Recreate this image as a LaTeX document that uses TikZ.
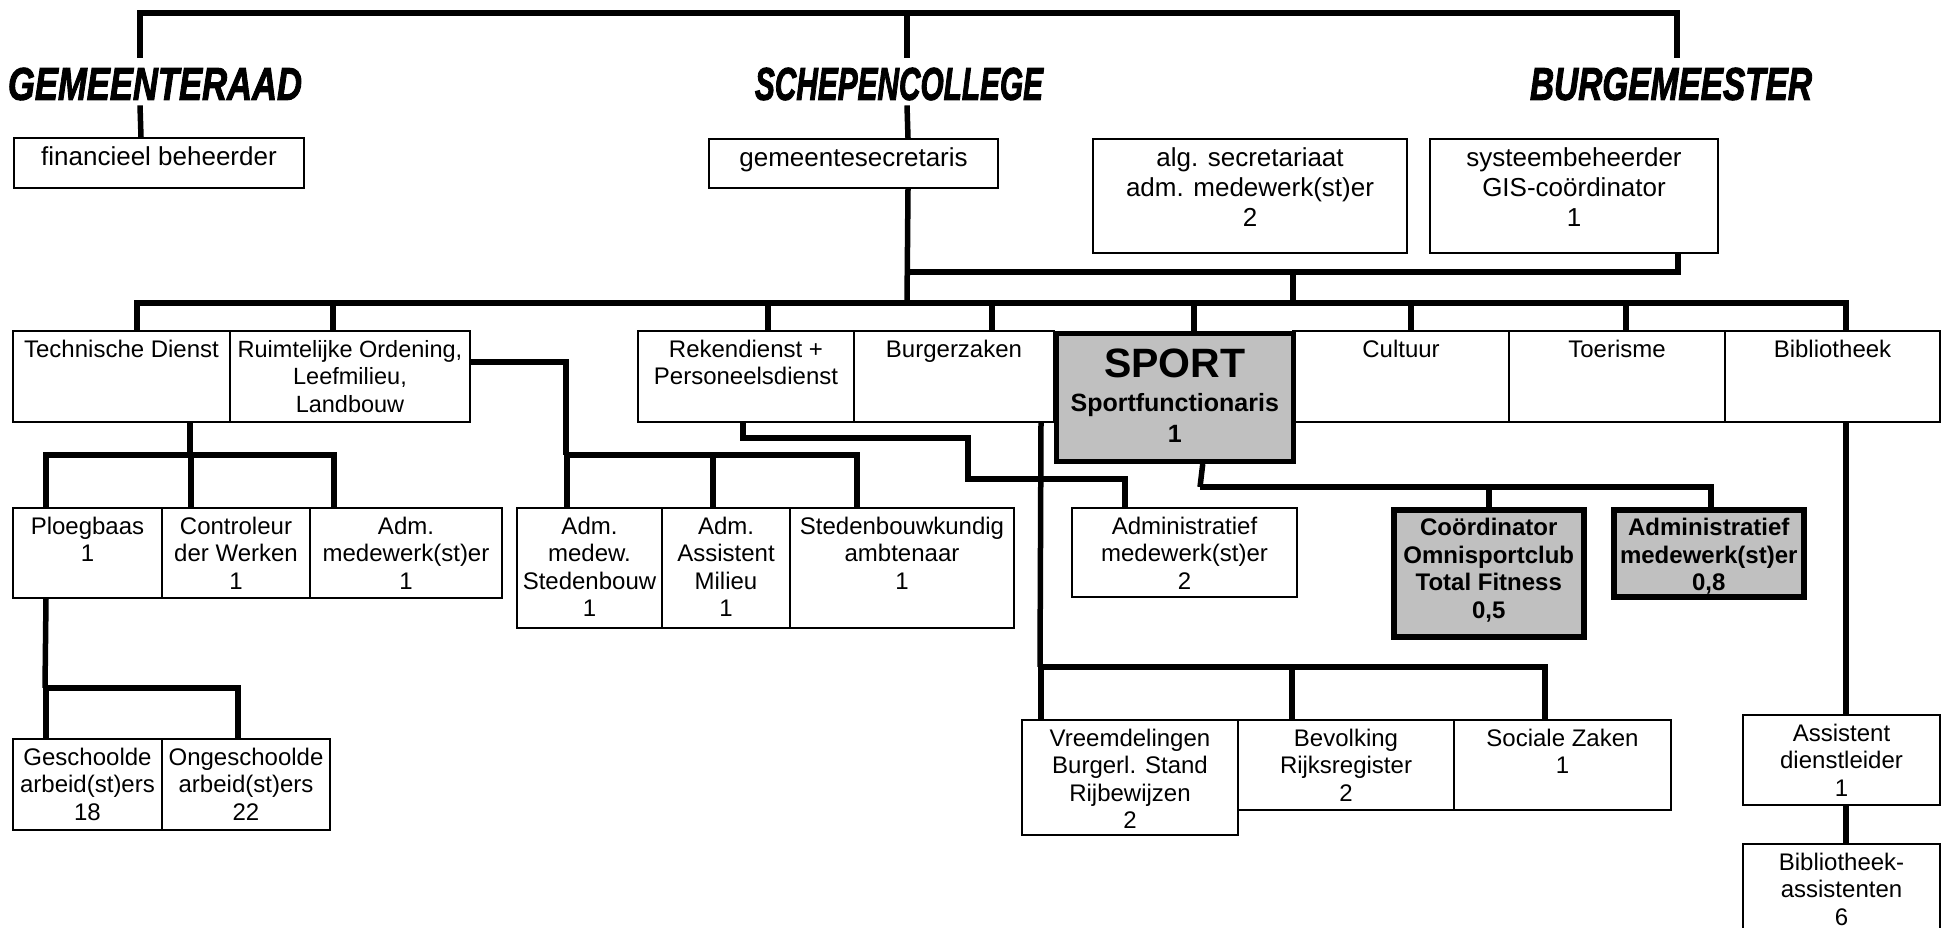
\documentclass[tikz,border=0pt]{standalone}
\usepackage{fontspec}
\setmainfont{Liberation Sans}
\newfontfamily\headfont[BoldItalicFeatures={FakeBold=2.5}]{Liberation Sans}
\usepackage{tikz}
\usetikzlibrary{positioning}
\definecolor{sportgray}{RGB}{192,192,192}

% box text: [first baseline]{width}{height}{lines}
\newcommand\vak[4][26]{\parbox[t][#3pt][t]{#2pt}{\centering\rule{0pt}{#1pt}#4\par}}

\begin{document}
\begin{tikzpicture}[x=1pt,y=-1pt,
    dienst/.style={draw, line width=2pt, fill=white, inner sep=0pt, anchor=north west,
                   font=\fontsize{24}{27.5}\selectfont},
    topdienst/.style={dienst, font=\fontsize{26}{30}\selectfont},
    sportdienst/.style={dienst, line width=5.5pt, fill=sportgray,
                   font=\bfseries\fontsize{24}{27.5}\selectfont},
    kop/.style={inner sep=0pt, font=\headfont\bfseries\itshape},
    lijn/.style={line width=5.5pt}]
    \useasboundingbox (0,0) rectangle (1941,928);

    %% bestuur
    \node[kop] (raad)  at (155,84) {\resizebox{294pt}{32pt}{GEMEENTERAAD}};
    \node[kop] (schep) at (899,84) {\resizebox{288pt}{32pt}{SCHEPENCOLLEGE}};
    \node[kop] (burg)  at (1671,84) {\resizebox{282pt}{32pt}{BURGEMEESTER}};

    \node[topdienst] (fin)   at (13,137)   {\vak[28]{290}{50}{financieel beheerder}};
    \node[topdienst] (gsecr) at (708,138)  {\vak[28]{289}{49}{gemeentesecretaris}};
    \node[topdienst] (alg)   at (1092,138) {\vak[28]{314}{114}{alg. secretariaat\\adm. medewerk(st)er\\2}};
    \node[topdienst] (sys)   at (1429,138) {\vak[28]{288}{114}{systeembeheerder\\GIS-coördinator\\1}};

    %% diensten
    \node[dienst] (tech)   at (12,330)   {\vak{217}{91}{Technische Dienst}};
    \node[dienst, font=\fontsize{23.5}{27.5}\selectfont] (ruimte) at (229,330)
        {\vak{240}{91}{Ruimtelijke Ordening,\\Leefmilieu,\\Landbouw}};
    \node[dienst] (reken)  at (637,330)  {\vak{216}{91}{Rekendienst +\\Personeelsdienst}};
    \node[dienst] (burgz)  at (853,330)  {\vak{200}{91}{Burgerzaken}};
    \node[dienst] (cult)   at (1292,330) {\vak{216}{91}{Cultuur}};
    \node[dienst] (toer)   at (1508,330) {\vak{216}{91}{Toerisme}};
    \node[dienst] (bib)    at (1724,330) {\vak{215}{91}{Bibliotheek}};
    \node[sportdienst, font=\bfseries\fontsize{25}{31}\selectfont] (sport) at (1053.5,330.5)
        {\vak[44.5]{237}{128}{{\fontsize{41}{41}\selectfont SPORT}\\[3pt]Sportfunctionaris\\1}};

    %% medewerkers
    \node[dienst] (ploeg)   at (12,507)  {\vak{149}{90}{Ploegbaas\\1}};
    \node[dienst] (contr)   at (161,507) {\vak{148}{90}{Controleur\\der Werken\\1}};
    \node[dienst] (admt)    at (309,507) {\vak{192}{90}{Adm.\\medewerk(st)er\\1}};
    \node[dienst] (admsted) at (516,507) {\vak{145}{120}{Adm.\\medew.\\Stedenbouw\\1}};
    \node[dienst] (admmil)  at (661,507) {\vak{128}{120}{Adm.\\Assistent\\Milieu\\1}};
    \node[dienst] (stedamb) at (789,507) {\vak{224}{120}{Stedenbouwkundig\\ambtenaar\\1}};
    \node[dienst] (admin)   at (1071,507) {\vak{225}{89}{Administratief\\medewerk(st)er\\2}};
    \node[sportdienst] (coord) at (1391,507) {\vak{190}{127}{Coördinator\\Omnisportclub\\Total Fitness\\0,5}};
    \node[sportdienst] (admsp) at (1611,507) {\vak{190}{87}{Administratief\\medewerk(st)er\\0,8}};

    \node[dienst] (vreemd) at (1021,719) {\vak{216}{115}{Vreemdelingen\\Burgerl. Stand\\Rijbewijzen\\2}};
    \node[dienst] (bevolk) at (1237,719) {\vak{216}{90}{Bevolking\\Rijksregister\\2}};
    \node[dienst] (soc)    at (1453,719) {\vak{217}{90}{Sociale Zaken\\1}};
    \node[dienst] (assdl)  at (1742,714) {\vak{197}{90}{Assistent\\dienstleider\\1}};
    \node[dienst] (bibass) at (1742,843) {\vak{197}{95}{Bibliotheek-\\assistenten\\6}};
    \node[dienst] (gesch)  at (12,738)  {\vak{149}{91}{Geschoolde\\arbeid(st)ers\\18}};
    \node[dienst] (onges)  at (161,738) {\vak{168}{91}{Ongeschoolde\\arbeid(st)ers\\22}};

    %% knooppunten
    \coordinate (top)    at (907,13);
    \coordinate (bus)    at (907,303);
    \coordinate (sidej)  at (907,272);
    \coordinate (algj)   at (1293,272);
    \coordinate (techj)  at (190,455);
    \coordinate (ruimj)  at (566,455);
    \coordinate (rekj)   at (968,438);
    \coordinate (rekk)   at (968,479);
    \coordinate (burgj)  at (1040,667);
    \coordinate (sportj) at (1200,487);
    \coordinate (ploegj) at (45,688);

    %% verbindingen
    \draw[lijn] ([xshift=-15pt,yshift=10pt]raad.north) |- (top) -| ([xshift=6pt,yshift=10pt]burg.north);
    \draw[lijn] (top) -- ([xshift=8pt,yshift=10pt]schep.north);
    \draw[lijn] ([xshift=-15pt,yshift=-5pt]raad.south) -- ([xshift=-18pt]fin.north);
    \draw[lijn] ([xshift=8pt,yshift=-5pt]schep.south) -- ([xshift=54.5pt]gsecr.north);
    \draw[lijn] ([xshift=54.5pt]gsecr.south) -- (bus);
    \draw[lijn] ([xshift=104pt]sys.south) |- (sidej);
    \draw[lijn] (algj) -- (algj |- bus);

    \foreach \n/\dx in {tech/15.5, ruimte/-17, reken/22, burgz/38, sport/19, cult/10, toer/9, bib/13.5}
        \draw[lijn] (bus) -| ([xshift=\dx pt]\n.north);

    \draw[lijn] (tech.south -| techj) -- (techj);
    \foreach \n/\dx in {ploeg/-41.5, contr/-45, admt/-72}
        \draw[lijn] (techj) -| ([xshift=\dx pt]\n.north);

    \draw[lijn] ([yshift=14.5pt]ruimte.east) -| (ruimj);
    \foreach \n/\dx in {admsted/-22.5, admmil/-13, stedamb/-45}
        \draw[lijn] (ruimj) -| ([xshift=\dx pt]\n.north);

    \draw[lijn] ([xshift=-3pt]reken.south) |- (rekj) -- (rekk) -| ([xshift=-59.5pt]admin.north);

    \draw[lijn] ([xshift=87pt]burgz.south) -- (burgj);
    \foreach \n/\dx in {vreemd/-89, bevolk/-54, soc/-17.5}
        \draw[lijn] (burgj) -| ([xshift=\dx pt]\n.north);

    \draw[lijn] ([xshift=28pt]sport.south) -- (sportj);
    \foreach \n/\dx in {coord/0, admsp/2}
        \draw[lijn] (sportj) -| ([xshift=\dx pt]\n.north);

    \draw[lijn] ([xshift=13.5pt]bib.south) -- ([xshift=4.5pt]assdl.north);
    \draw[lijn] ([xshift=4.5pt]assdl.south) -- ([xshift=4.5pt]bibass.north);

    \draw[lijn] ([xshift=-41.5pt]ploeg.south) -- (ploegj);
    \foreach \n/\dx in {gesch/-41.5, onges/-8}
        \draw[lijn] (ploegj) -| ([xshift=\dx pt]\n.north);
\end{tikzpicture}
\end{document}
